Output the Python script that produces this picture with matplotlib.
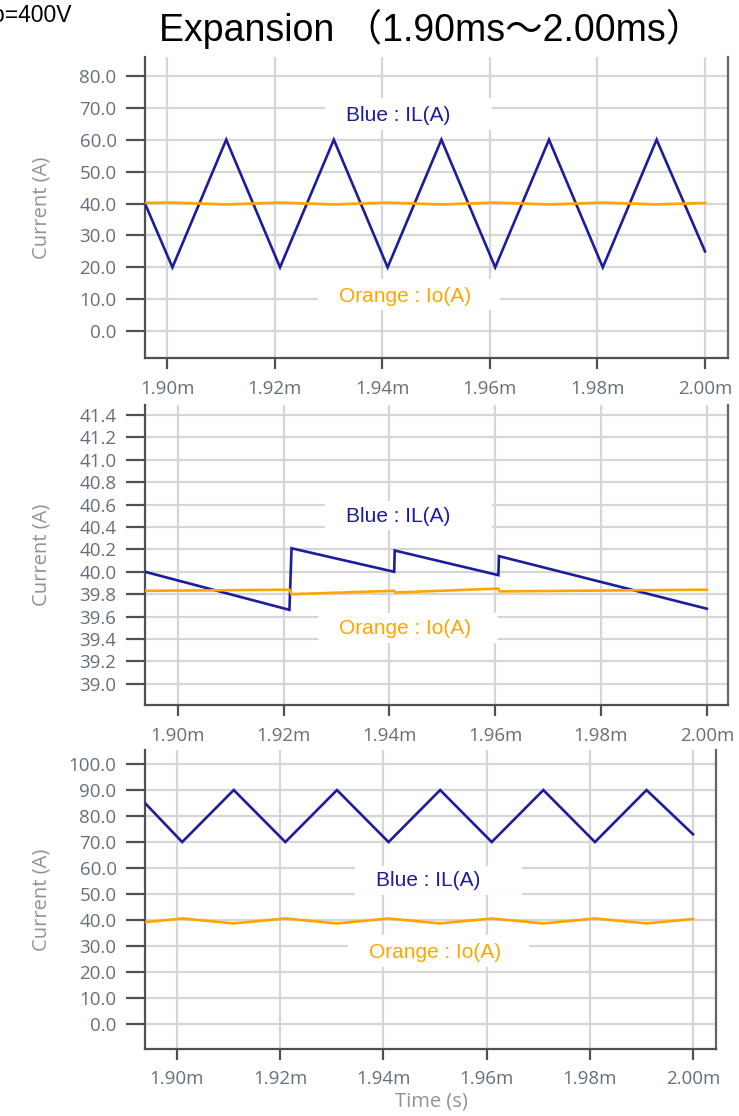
import matplotlib
matplotlib.use("Agg")
import matplotlib.pyplot as plt
from matplotlib.patches import Rectangle
from matplotlib.ticker import FixedLocator, FuncFormatter

# ---------------- data (time in ms) ----------------
t1 = [1.8959, 1.901, 1.911, 1.921, 1.931, 1.941, 1.951, 1.961, 1.971, 1.981, 1.991, 2.000]
il1 = [40, 20, 60, 20, 60, 20, 60, 20, 60, 20, 60, 25]
io1 = [40.2, 40.3, 39.7, 40.3, 39.7, 40.3, 39.7, 40.3, 39.7, 40.3, 39.7, 40.2]

t2_il = [1.8938, 1.9211, 1.9215, 1.9409, 1.9410, 1.9606, 1.9607, 2.000]
il2 = [40.00, 39.66, 40.21, 40.00, 40.19, 39.97, 40.14, 39.67]
t2_io = [1.8938, 1.9211, 1.9215, 1.9409, 1.9411, 1.9606, 1.9608, 2.000]
io2 = [39.83, 39.84, 39.80, 39.83, 39.815, 39.85, 39.825, 39.84]

t3 = [1.8938, 1.901, 1.911, 1.921, 1.931, 1.941, 1.951, 1.961, 1.971, 1.981, 1.991, 2.000]
il3 = [85, 70, 90, 70, 90, 70, 90, 70, 90, 70, 90, 73]
io3 = [39.2, 40.6, 38.7, 40.6, 38.7, 40.6, 38.7, 40.6, 38.7, 40.6, 38.7, 40.4]

xticks = [1.90, 1.92, 1.94, 1.96, 1.98, 2.00]
yticks1 = [0, 10, 20, 30, 40, 50, 60, 70, 80]
yticks2 = [39.0, 39.2, 39.4, 39.6, 39.8, 40.0, 40.2, 40.4, 40.6, 40.8, 41.0, 41.2, 41.4]
yticks3 = [0, 10, 20, 30, 40, 50, 60, 70, 80, 90, 100]

title_text = "Expansion （1.90ms～2.00ms）"
corner_text = "Vo=400V"
blue_label = "Blue : IL(A)"
orange_label = "Orange : Io(A)"
ylabel_text = "Current (A)"
xlabel_text = "Time (s)"

# ---------------- styling ----------------
W, H = 739, 1116
BLUE = "#1c1c9c"
ORANGE = "#ffa500"
GRID = "#d6d6d6"
SPINE = "#505050"
TICKLBL = "#66707a"
AXLBL = "#8e9399"
TICKFONT = ["Open Sans", "DejaVu Sans"]
TXTFONT = ["Liberation Sans", "Noto Sans CJK JP", "DejaVu Sans"]

fig = plt.figure(figsize=(W / 100, H / 100), dpi=100)


def fx(px):
    return px / W


def fy(py):
    return 1 - py / H


def make_axes(left, right, top, bottom):
    return fig.add_axes([fx(left), fy(bottom), fx(right - left), (bottom - top) / H])


panels = [
    dict(box=(145, 728, 57, 358), xlim=(1.8959, 2.00427), ylim=(-8.4, 85.9),
         yticks=yticks1, fmt="{:.1f}",
         series=[(t1, il1, BLUE), (t1, io1, ORANGE)],
         blue_box=(325, 492, 98, 130), blue_txt=(398, 115),
         orange_box=(318, 500, 279, 310), orange_txt=(405, 296), xpad=7.5),
    dict(box=(145, 728, 405, 705), xlim=(1.8938, 2.0040), ylim=(38.81, 41.49),
         yticks=yticks2, fmt="{:.1f}",
         series=[(t2_il, il2, BLUE), (t2_io, io2, ORANGE)],
         blue_box=(325, 492, 501, 530), blue_txt=(398, 516),
         orange_box=(318, 498, 613, 643), orange_txt=(405, 629), xpad=7.5),
    dict(box=(145, 716, 750, 1049), xlim=(1.8938, 2.00446), ylim=(-9.6, 105.4),
         yticks=yticks3, fmt="{:.1f}",
         series=[(t3, il3, BLUE), (t3, io3, ORANGE)],
         blue_box=(355, 522, 866, 895), blue_txt=(428, 881),
         orange_box=(348, 529, 935, 967), orange_txt=(435, 952), xpad=7),
]

for p in panels:
    l, r, t, b = p["box"]
    ax = make_axes(l, r, t, b)
    ax.set_xlim(*p["xlim"])
    ax.set_ylim(*p["ylim"])
    ax.set_axisbelow(True)
    ax.xaxis.set_major_locator(FixedLocator(xticks))
    ax.xaxis.set_major_formatter(FuncFormatter(lambda v, pos: f"{v:.2f}m"))
    ax.yaxis.set_major_locator(FixedLocator(p["yticks"]))
    fmt = p["fmt"]
    ax.yaxis.set_major_formatter(FuncFormatter(lambda v, pos, fmt=fmt: fmt.format(v)))
    ax.grid(True, color=GRID, linewidth=1.6)
    for s in ["left", "bottom", "right"]:
        ax.spines[s].set_color(SPINE)
        ax.spines[s].set_linewidth(1.6)
    ax.spines["right"].set_color("#666666")
    ax.spines["top"].set_visible(False)
    ax.tick_params(axis="y", length=13.5, width=1.6, color=SPINE, pad=7,
                   labelsize=13.5, labelcolor=TICKLBL)
    ax.tick_params(axis="x", length=8, width=1.6, color=SPINE, pad=p["xpad"],
                   labelsize=13.5, labelcolor=TICKLBL)
    for lbl in ax.get_xticklabels() + ax.get_yticklabels():
        lbl.set_fontfamily(TICKFONT)

    for (tx, ty, c) in p["series"]:
        ax.plot(tx, ty, color=c, linewidth=1.9, zorder=3, solid_joinstyle="miter")

    for key_box, key_txt, txt, col in [("blue_box", "blue_txt", blue_label, BLUE),
                                       ("orange_box", "orange_txt", orange_label, ORANGE)]:
        bl, br, bt, bb = p[key_box]
        rect = Rectangle((fx(bl), fy(bb)), fx(br - bl), (bb - bt) / H,
                         transform=fig.transFigure, facecolor="white",
                         edgecolor="none", zorder=2.5, clip_on=False)
        ax.add_patch(rect)
        cx, cy = p[key_txt]
        ax.text(fx(cx), fy(cy), txt, transform=fig.transFigure, ha="center",
                va="center", fontsize=15, color=col, family=TXTFONT, zorder=4)

    fig.text(fx(42), fy((t + b) / 2), ylabel_text, rotation=90, ha="center",
             va="center", fontsize=14.5, color=AXLBL, family=TICKFONT)

fig.text(fx(431), fy(1102), xlabel_text, ha="center", va="center",
         fontsize=14.5, color=AXLBL, family=TICKFONT)
fig.text(fx(431), fy(29), title_text, ha="center", va="center",
         fontsize=27, color="black", family=TXTFONT)
fig.text(fx(72), fy(15), corner_text, ha="right", va="center",
         fontsize=16.5, color="black", family=TXTFONT)

fig.savefig("out.png", dpi=100, facecolor="white")
